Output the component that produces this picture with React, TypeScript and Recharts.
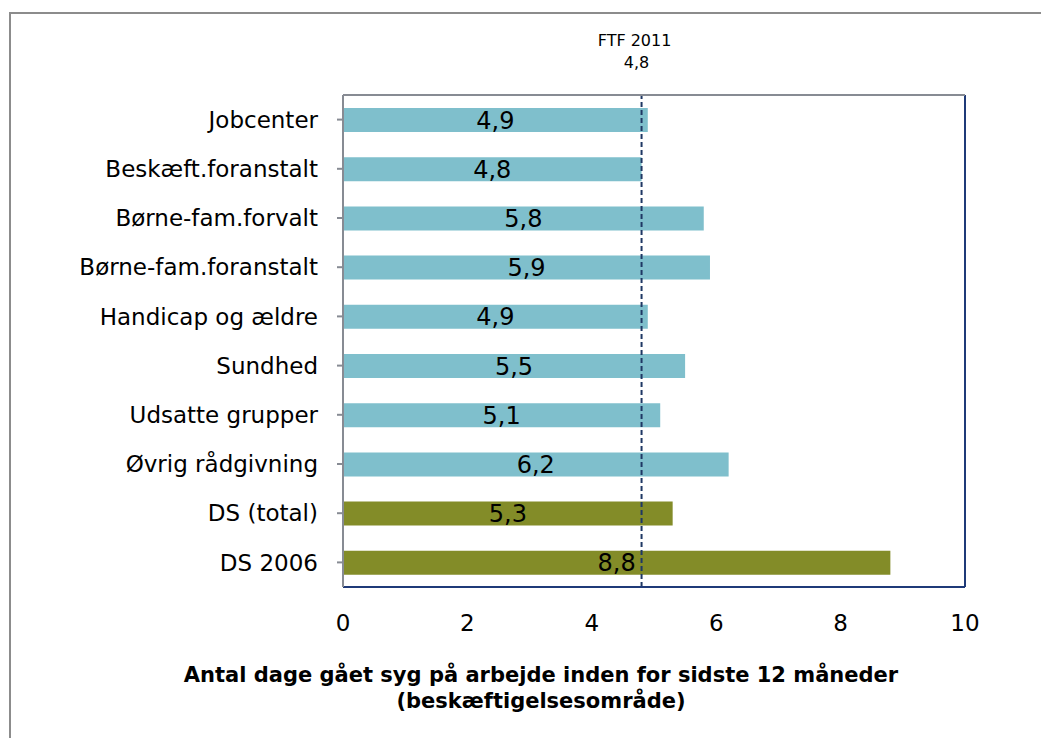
import React from 'react';
import {
  BarChart, Bar, XAxis, YAxis, Cell, LabelList, ReferenceLine, Customized,
} from 'recharts';

const categories = [
  'Jobcenter',
  'Beskæft.foranstalt',
  'Børne-fam.forvalt',
  'Børne-fam.foranstalt',
  'Handicap og ældre',
  'Sundhed',
  'Udsatte grupper',
  'Øvrig rådgivning',
  'DS (total)',
  'DS 2006',
];
const values = [4.9, 4.8, 5.8, 5.9, 4.9, 5.5, 5.1, 6.2, 5.3, 8.8];
const groups = ['omr', 'omr', 'omr', 'omr', 'omr', 'omr', 'omr', 'omr', 'ds', 'ds'];
const xTicks = [0, 2, 4, 6, 8, 10];
const ftfValue = 4.8;
const ftfLabel = 'FTF 2011';
const titleLine1 = 'Antal dage gået syg på arbejde inden for sidste 12 måneder';
const titleLine2 = '(beskæftigelsesområde)';

const COLORS: Record<string, string> = { omr: '#7fbfcc', ds: '#838c28' };
const FONT = "'DejaVu Sans', Verdana, sans-serif";
const GRAY = '#878b93';
const NAVY = '#1f3a78';

const data = categories.map((name, i) => ({ name, value: values[i], group: groups[i] }));

const fmt = (v: number) => v.toFixed(1).replace('.', ',');

const FtfLabel = (props: any) => {
  const vb = props.viewBox || {};
  const cx = vb.x - 7;
  return (
    <g>
      <text x={cx} y={vb.y - 49} textAnchor="middle" fontSize={16} fontFamily={FONT} fill="#000">
        {ftfLabel}
      </text>
      <text x={cx + 2} y={vb.y - 27} textAnchor="middle" fontSize={16} fontFamily={FONT} fill="#000">
        {fmt(ftfValue)}
      </text>
    </g>
  );
};

const Title = () => (
  <g>
    <text x={541} y={682} textAnchor="middle" fontSize={21} fontWeight="bold" fontFamily={FONT} fill="#000">
      {titleLine1}
    </text>
    <text x={541} y={708} textAnchor="middle" fontSize={21} fontWeight="bold" fontFamily={FONT} fill="#000">
      {titleLine2}
    </text>
  </g>
);

export default function App() {
  return (
    <div style={{ position: 'absolute', left: 0, top: 0, width: 1041, height: 738, overflow: 'hidden', background: '#fff' }}>
      <div style={{ position: 'absolute', left: 9, top: 12, width: 1100, height: 800, border: '2px solid #8c8c8c', boxSizing: 'border-box' }} />
      <div style={{ position: 'absolute', left: 0, top: 0 }}>
        <BarChart
          width={1041}
          height={738}
          data={data}
          layout="vertical"
          margin={{ top: 94, right: 76, bottom: 91, left: 0 }}
          barSize={24}
        >
          <XAxis
            type="number"
            domain={[0, 10]}
            ticks={xTicks}
            allowDataOverflow
            height={60}
            axisLine={{ stroke: NAVY, strokeWidth: 2 }}
            tickLine={false}
            tickSize={0}
            tickMargin={28}
            tick={{ fontSize: 23, fontFamily: FONT, fill: '#000' }}
          />
          <XAxis
            xAxisId="top"
            type="number"
            orientation="top"
            domain={[0, 10]}
            ticks={xTicks}
            height={1}
            axisLine={{ stroke: GRAY, strokeWidth: 2 }}
            tickLine={{ stroke: GRAY, strokeWidth: 2 }}
            tickSize={-7}
            tick={false}
          />
          <YAxis
            type="category"
            dataKey="name"
            width={343}
            axisLine={{ stroke: GRAY, strokeWidth: 2 }}
            tickLine={{ stroke: GRAY, strokeWidth: 2 }}
            tickSize={6}
            tickMargin={19}
            interval={0}
            tick={{ fontSize: 23, fontFamily: FONT, fill: '#000' }}
          />
          <ReferenceLine x={10} stroke={NAVY} strokeWidth={2} />
          <Bar dataKey="value" isAnimationActive={false}>
            {data.map((d, i) => (
              <Cell key={i} fill={COLORS[d.group]} />
            ))}
            <LabelList
              dataKey="value"
              position="center"
              formatter={(v: any) => fmt(Number(v))}
              style={{ fontSize: 24, fontFamily: FONT, fill: '#000' }}
            />
          </Bar>
          <ReferenceLine
            x={ftfValue}
            stroke="#1f3864"
            strokeWidth={2}
            strokeDasharray="5 3"
            label={<FtfLabel />}
          />
          <Customized component={Title} />
        </BarChart>
      </div>
    </div>
  );
}
